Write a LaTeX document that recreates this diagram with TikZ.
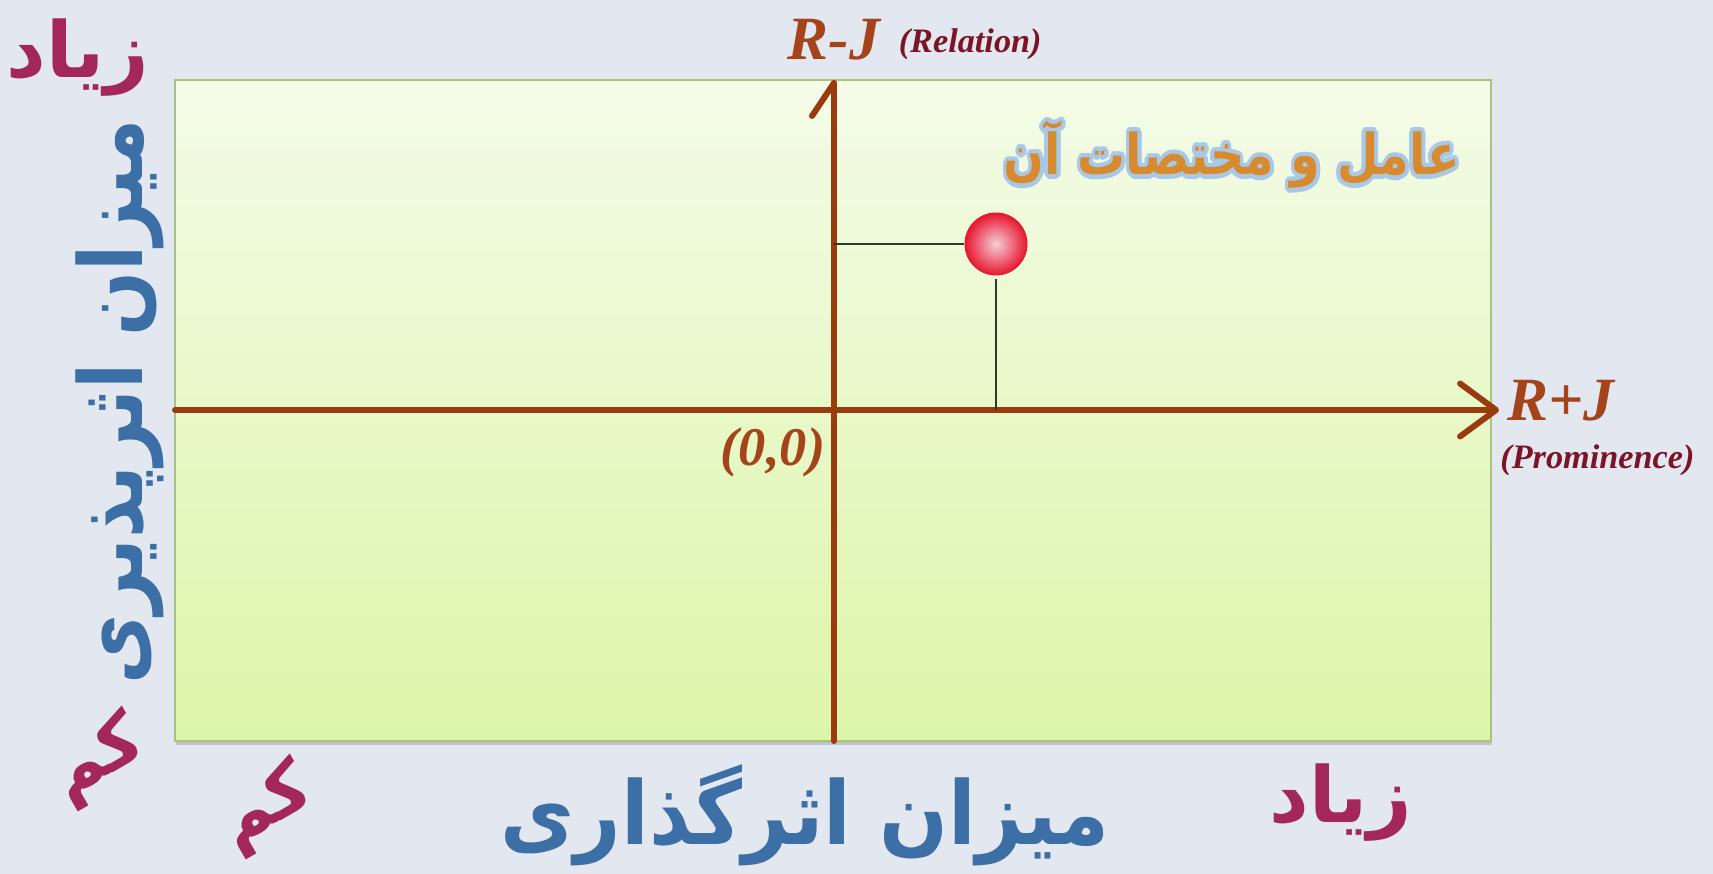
\documentclass[tikz,border=0pt]{standalone}
\usepackage{fontspec}
\usepackage{contour}
\usetikzlibrary{arrows.meta,calc,positioning,shadows}
\newfontfamily\latfont{Liberation Serif}
\newfontfamily\arabicfont[Script=Arabic]{DejaVu Sans}
\TeXXeTstate=1
\definecolor{bgcol}{HTML}{E3E7F0}
\definecolor{boxtop}{HTML}{F4FBE8}
\definecolor{boxbot}{HTML}{DCF6A8}
\definecolor{boxline}{HTML}{A9C27E}
\definecolor{axbrown}{HTML}{9A3B0F}
\definecolor{labbrown}{HTML}{A5441A}
\definecolor{labred}{HTML}{7B1426}
\definecolor{guidecol}{HTML}{2E3A2E}
\definecolor{fablue}{HTML}{3C6FA6}
\definecolor{famaroon}{HTML}{A3275C}
\definecolor{faorange}{HTML}{D88A2E}
\definecolor{glowblue}{HTML}{A8C8E8}
\definecolor{ballin}{HTML}{F6CDD7}
\definecolor{ballout}{HTML}{E6142D}
\contourlength{2.5pt}

\begin{document}
\begin{tikzpicture}[x=0.02cm,y=-0.02cm]
	\tikzstyle{axis}=[line width=3.4pt,draw=axbrown,line cap=round]
	\tikzstyle{guide}=[line width=1.2pt,draw=guidecol]
	\tikzstyle{axlab}=[inner sep=0pt,text=labbrown,font=\latfont\bfseries\itshape\fontsize{35}{40}\selectfont]
	\tikzstyle{sublab}=[inner sep=0pt,text=labred,font=\latfont\bfseries\itshape\fontsize{19.5}{22}\selectfont]
	\tikzstyle{fabig}=[inner sep=0pt,text=fablue,font=\arabicfont\bfseries\fontsize{50}{56}\selectfont]
	\tikzstyle{famark}=[inner sep=0pt,text=famaroon,font=\arabicfont\bfseries\fontsize{44}{50}\selectfont]
	\tikzstyle{falow}=[famark,font=\arabicfont\bfseries\fontsize{40}{46}\selectfont,rotate=30]
	\tikzstyle{fatitle}=[inner sep=0pt,text=faorange,font=\arabicfont\bfseries\fontsize{32}{38}\selectfont]
	\tikzstyle{ball}=[circle,minimum size=1.26cm,inner sep=0pt,shading=radial,inner color=ballin,outer color=ballout]

	\fill [bgcol] (0,0) rectangle (1713,874);
	\useasboundingbox (0,0) rectangle (1713,874);

	% plot area
	\path [draw=boxline,line width=0.8pt,top color=boxtop,bottom color=boxbot,
		drop shadow={shadow xshift=0.6pt,shadow yshift=-2pt,opacity=0.35}] (175,80) rectangle (1491,741);

	% axes
	\coordinate (O) at (834,410);
	\coordinate (xs) at (175,410);
	\coordinate (xe) at (1499,410);
	\coordinate (ys) at (834,741);
	\coordinate (ye) at (834,80);
	\draw [axis,-{Straight Barb[round,length=0.72cm,width=1.06cm]}] (xs) -- (xe);
	\draw [axis,-{Straight Barb[left,round,length=0.66cm,width=0.88cm]}] (ys) -- (ye);

	% the factor and its coordinates
	\node (pt) [ball] at (996,244) {};
	\draw [guide] (pt.west) -- (pt.west -| O);
	\draw [guide] ($(pt.south)+(0,3)$) -- (pt.south |- O);

	% axis labels
	\node (rj) [axlab,anchor=base] at (834,60) {R-J};
	\node (rel) [sublab,anchor=base west] at ($(rj.base east)+(18,-7)$) {(Relation)};
	\node (rpj) [axlab,anchor=base west] at (1507,420) {R+J};
	\node (prom) [sublab,anchor=base west] at (1500,468) {(Prominence)};
	\node (orig) [axlab,font=\latfont\bfseries\itshape\fontsize{31}{35}\selectfont,anchor=base] at (773,465) {(0,0)};

	% persian texts
	\node (ttl) [fatitle,xscale=0.85] at (1232,157) {\contour{glowblue}{\beginR عامل و مختصات آن\endR}};
	\node (effx) [fabig,xscale=0.92] at (805,815) {\beginR میزان اثرگذاری\endR};
	\node (effy) [fabig,rotate=90,xscale=0.87] at (120,402) {\beginR میزان اثرپذیری\endR};
	\node (hix) [famark] at (1341,803) {\beginR زیاد\endR};
	\node (hiy) [famark] at (78,58) {\beginR زیاد\endR};
	\node (lox) [falow] at (266,808) {\beginR کم\endR};
	\node (loy) [falow] at (98,760) {\beginR کم\endR};
\end{tikzpicture}
\end{document}
